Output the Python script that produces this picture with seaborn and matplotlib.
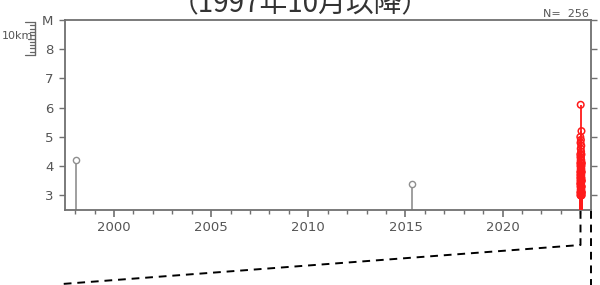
import matplotlib
matplotlib.use("Agg")
import matplotlib.pyplot as plt
import seaborn as sns
import pandas as pd
from matplotlib.lines import Line2D

# ---- data ----
old_t = [1998.05, 2015.33]
old_m = [4.2, 3.4]

red_t = [2024.02, 2024.06, 2024.00, 2024.03, 2024.01, 2024.05, 2024.02, 2024.04,
         2024.00, 2024.06, 2024.03, 2024.01, 2024.05, 2024.02, 2024.04, 2024.00,
         2024.06, 2024.03, 2024.01, 2024.05, 2024.02, 2024.04, 2024.00, 2024.06,
         2024.03, 2024.01, 2024.05, 2024.02, 2024.04, 2024.00, 2024.06, 2024.03,
         2024.01, 2024.05, 2024.02, 2024.04, 2024.00, 2024.06, 2024.03, 2024.01,
         2024.05, 2024.02, 2024.04, 2024.00, 2024.06, 2024.03, 2024.01, 2024.05,
         2024.02, 2024.04, 2024.08, 2024.07, 2024.08, 2024.07, 2024.08, 2024.07]
red_m = [6.1, 5.2, 5.0, 4.9, 4.8, 4.7, 4.6, 4.5, 4.4, 4.4,
         4.3, 4.3, 4.2, 4.2, 4.1, 4.1, 4.0, 4.0, 4.0, 3.9,
         3.9, 3.9, 3.8, 3.8, 3.8, 3.7, 3.7, 3.7, 3.6, 3.6,
         3.6, 3.5, 3.5, 3.5, 3.4, 3.4, 3.4, 3.3, 3.3, 3.3,
         3.2, 3.2, 3.2, 3.1, 3.1, 3.1, 3.0, 3.0, 3.0, 3.0,
         4.1, 3.8, 3.5, 3.3, 3.1, 3.0]

y_ticks = [3, 4, 5, 6, 7, 8, 9]
y_labels = ["3", "4", "5", "6", "7", "8", "M"]
x_major = [2000, 2005, 2010, 2015, 2020]
x_minor = list(range(1998, 2025))
title_text = "（1997年10月以降）"
n_text = "N=  256"

# ---- figure ----
sns.set_theme(style="white")
plt.rcParams['font.family'] = ['DejaVu Sans', 'Noto Sans CJK JP']

W, H = 600, 285
fig = plt.figure(figsize=(W / 100, H / 100), dpi=100)
fig.patch.set_facecolor("white")

def fx(x):
    return x / W

def fy(y):
    return 1 - y / H

ax = fig.add_axes([fx(64.5), fy(210), fx(591) - fx(64.5), fy(20) - fy(210)])
ax.set_facecolor("white")

ymin, ymax = 2.5, 9.0
ax.set_xlim(1997.45, 2024.55)
ax.set_ylim(ymin, ymax)

old_df = pd.DataFrame({"t": old_t, "m": old_m})
red_df = pd.DataFrame({"t": red_t, "m": red_m})

gray = "#8f8f8f"
red = "#ff1a1a"

ax.vlines(old_df["t"], ymin, old_df["m"], color=gray, lw=1.2, zorder=2)
ax.vlines(red_df["t"], ymin, red_df["m"], color=red, lw=1.3, zorder=3)

sns.scatterplot(data=old_df, x="t", y="m", ax=ax, marker="o", s=20,
                facecolor="white", edgecolor=gray, linewidth=1.0, zorder=4)
sns.scatterplot(data=red_df, x="t", y="m", ax=ax, marker="o", s=22,
                facecolor="none", edgecolor=red, linewidth=1.1, zorder=5)

ax.set_xlabel("")
ax.set_ylabel("")

spine_c = "#707070"
for s in ax.spines.values():
    s.set_color(spine_c)
    s.set_linewidth(1.3)

ax.set_yticks(y_ticks)
ax.set_yticklabels(y_labels)
ax.set_xticks(x_major)
ax.set_xticklabels([str(v) for v in x_major])
ax.set_xticks(x_minor, minor=True)

ax.tick_params(axis="x", which="major", direction="out", length=5, width=1.2,
               color=spine_c, labelcolor="#555555", labelsize=9.5, pad=3, bottom=True)
ax.tick_params(axis="x", which="minor", direction="out", length=3, width=1.0,
               color=spine_c, bottom=True)
ax.tick_params(axis="y", which="major", direction="out", length=4, width=1.0,
               color=spine_c, labelcolor="#555555", labelsize=9.5, pad=4, left=True,
               right=True, labelright=False)
ax.grid(False)

# title (cut at top, as in the source image) and count
fig.text(fx(300), fy(12), title_text, ha="center", va="baseline",
         fontsize=20, color="#333333", family=['Noto Sans CJK JP', 'DejaVu Sans'])
fig.text(fx(589), fy(17), n_text, ha="right", va="baseline",
         fontsize=8, color="#555555")

# depth scale ruler on the left
rc = "#666666"
fig.add_artist(Line2D([fx(35), fx(35)], [fy(22), fy(55)], color=rc, lw=1.0))
for i in range(11):
    yy = 22 + i * 3.3
    if i in (0, 10):
        x0 = 25
    elif i == 5:
        x0 = 28
    else:
        x0 = 30
    fig.add_artist(Line2D([fx(x0), fx(35)], [fy(yy), fy(yy)], color=rc, lw=0.9))
fig.text(fx(33), fy(39), "10km", ha="right", va="baseline", fontsize=8, color="#555555")

# dashed zoom lines
dash = dict(color="black", lw=1.4, linestyle=(0, (4, 3)))
fig.add_artist(Line2D([fx(580.5), fx(580.5), fx(62)], [fy(211), fy(245), fy(284)], **dash))
fig.add_artist(Line2D([fx(591), fx(591)], [fy(211), fy(286)], **dash))

fig.savefig("out.png", dpi=100, facecolor="white")
